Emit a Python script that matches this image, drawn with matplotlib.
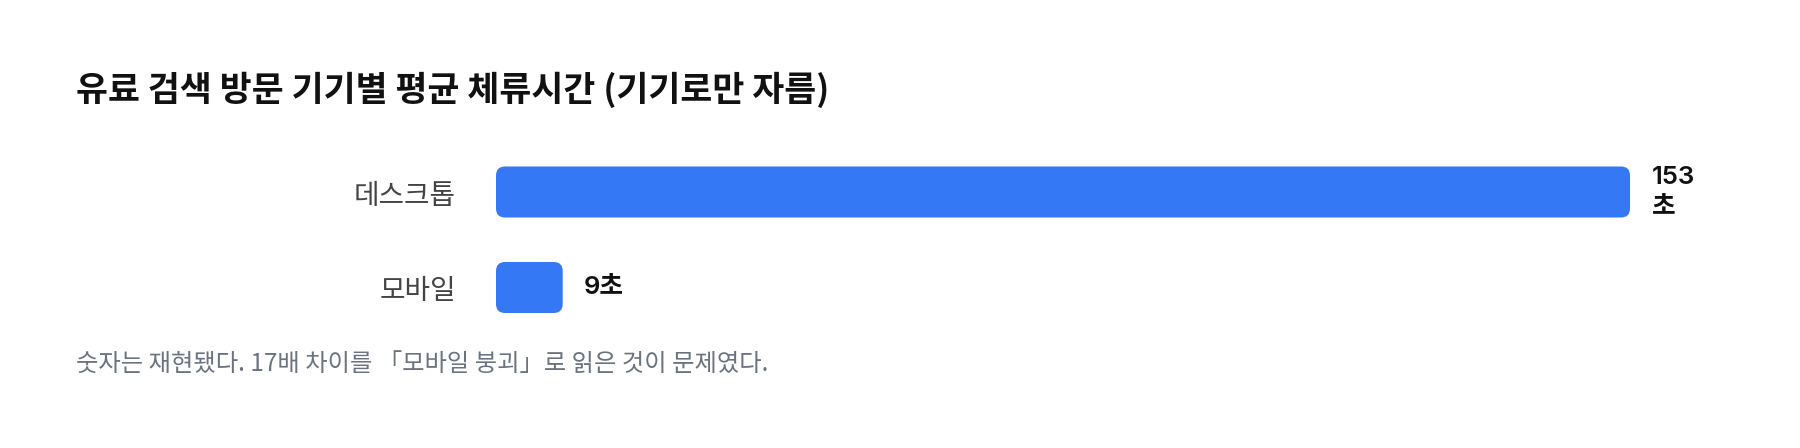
import matplotlib
matplotlib.use("Agg")
import matplotlib.pyplot as plt
from matplotlib.patches import FancyBboxPatch

plt.rcParams["font.family"] = ["Noto Sans CJK KR", "DejaVu Sans"]

devices = ["데스크톱", "모바일"]
seconds = [153, 9]
value_labels = ["153\n초", "9초"]
title = "유료 검색 방문 기기별 평균 체류시간 (기기로만 자름)"
note = "숫자는 재현됐다. 17배 차이를 「모바일 붕괴」로 읽은 것이 문제였다."

BAR = "#3478f6"
W, H, DPI = 1800, 448, 100

fig = plt.figure(figsize=(W / DPI, H / DPI), dpi=DPI)
ax = fig.add_axes([496 / W, (H - 335.25) / H, 1134 / W, 191 / H])

ypos = list(range(len(devices)))
bars = ax.barh(ypos, seconds, height=0.534, color=BAR)
ax.set_xlim(0, max(seconds))
ax.set_ylim(len(devices) - 0.5, -0.5)

# swap plain rectangles for rounded ones
x_per_px = max(seconds) / 1134
y_per_px = 2 / 191
for rect in bars:
    rect.set_visible(False)
    x, y = rect.get_xy()
    w, h = rect.get_width(), rect.get_height()
    ax.add_patch(FancyBboxPatch((x, y), w, h,
                                boxstyle=f"round,pad=0,rounding_size={9 * x_per_px}",
                                mutation_aspect=y_per_px / x_per_px,
                                fc=BAR, ec="none"))

for yp, v, lab in zip(ypos, seconds, value_labels):
    ax.annotate(lab, (v, yp), xytext=(15.5, 0), textcoords="offset points",
                ha="left", va="center", fontsize=18.5, fontweight="semibold",
                family=["Inter", "Noto Sans CJK KR"],
                color="#111111", linespacing=1.3)

ax.set_yticks(ypos)
ax.set_yticklabels(devices, fontsize=20, color="#444444")
ax.tick_params(axis="y", length=0, pad=29)
ax.set_xticks([])
for s in ax.spines.values():
    s.set_visible(False)

fig.text(76 / W, 1 - 90 / H, title, fontsize=25, fontweight="bold",
         color="#111111", ha="left", va="center")
fig.text(76 / W, 1 - 364 / H, note, fontsize=17.5, color="#6b7280",
         ha="left", va="center")

fig.savefig("out.png", dpi=DPI, facecolor="white")
